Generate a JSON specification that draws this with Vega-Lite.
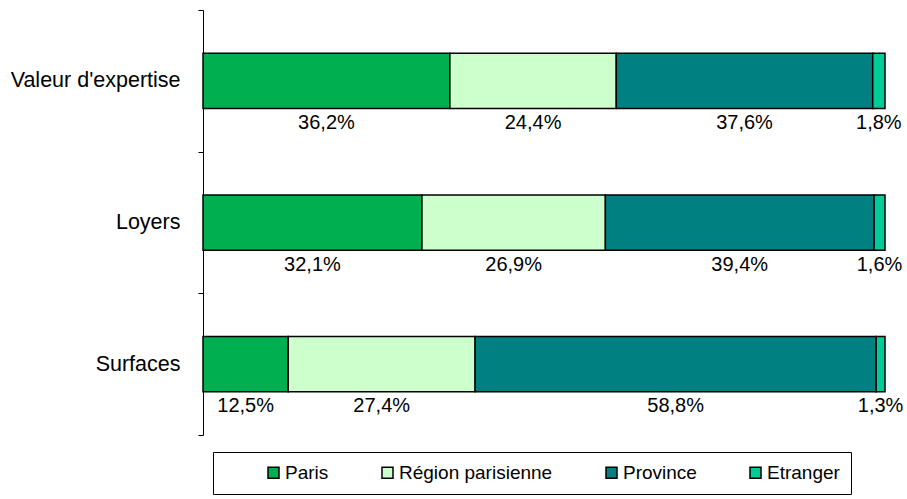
{
  "$schema": "https://vega.github.io/schema/vega-lite/v6.json",
  "width": 682,
  "height": 425,
  "autosize": {"type": "none"},
  "padding": {"left": 203, "top": 10, "right": 22, "bottom": 64},
  "config": {
    "view": {"stroke": null},
    "font": "Liberation Sans",
    "locale": {"number": {"decimal": ",", "thousands": " ", "grouping": [3], "currency": ["", " €"]}}
  },
  "data": {
    "values": [
      {"cat": "Valeur d'expertise", "zone": "Paris", "k": 1, "value": 0.362},
      {"cat": "Valeur d'expertise", "zone": "Région parisienne", "k": 2, "value": 0.244},
      {"cat": "Valeur d'expertise", "zone": "Province", "k": 3, "value": 0.376},
      {"cat": "Valeur d'expertise", "zone": "Etranger", "k": 4, "value": 0.018},
      {"cat": "Loyers", "zone": "Paris", "k": 1, "value": 0.321},
      {"cat": "Loyers", "zone": "Région parisienne", "k": 2, "value": 0.269},
      {"cat": "Loyers", "zone": "Province", "k": 3, "value": 0.394},
      {"cat": "Loyers", "zone": "Etranger", "k": 4, "value": 0.016},
      {"cat": "Surfaces", "zone": "Paris", "k": 1, "value": 0.125},
      {"cat": "Surfaces", "zone": "Région parisienne", "k": 2, "value": 0.274},
      {"cat": "Surfaces", "zone": "Province", "k": 3, "value": 0.588},
      {"cat": "Surfaces", "zone": "Etranger", "k": 4, "value": 0.013}
    ]
  },
  "transform": [
    {"stack": "value", "groupby": ["cat"], "sort": [{"field": "k", "order": "ascending"}], "as": ["v0", "v1"]},
    {"calculate": "(datum.v0 + datum.v1) / 2", "as": "mid"}
  ],
  "encoding": {
    "y": {
      "field": "cat",
      "type": "nominal",
      "sort": ["Valeur d'expertise", "Loyers", "Surfaces"],
      "scale": {"paddingInner": 0, "paddingOuter": 0},
      "axis": {
        "title": null,
        "domainColor": "black",
        "domainWidth": 1,
        "tickColor": "black",
        "tickSize": 5,
        "tickBand": "extent",
        "labelFontSize": 21.5,
        "labelColor": "black",
        "labelPadding": 18,
        "labelFont": "Liberation Sans"
      }
    }
  },
  "layer": [
    {
      "mark": {"type": "bar", "height": {"band": 0.39}, "stroke": "black", "strokeWidth": 1.5},
      "encoding": {
        "x": {"field": "v0", "type": "quantitative", "scale": {"domain": [0, 1]}, "axis": null},
        "x2": {"field": "v1"},
        "color": {
          "field": "zone",
          "type": "nominal",
          "sort": ["Paris", "Région parisienne", "Province", "Etranger"],
          "scale": {
            "domain": ["Paris", "Région parisienne", "Province", "Etranger"],
            "range": ["#00B050", "#CCFFCC", "#008080", "#00CC99"]
          },
          "legend": {
            "title": " ",
            "titleOrient": "left",
            "titlePadding": 40,
            "orient": "none",
            "direction": "horizontal",
            "legendX": 10,
            "legendY": 442,
            "strokeColor": "black",
            "padding": 11,
            "columnPadding": 49,
            "symbolType": "square",
            "symbolSize": 121,
            "symbolStrokeColor": "black",
            "symbolStrokeWidth": 1.5,
            "symbolOpacity": 1,
            "labelOffset": 2,
            "labelFontSize": 19,
            "labelColor": "black",
            "labelFont": "Liberation Sans"
          }
        }
      }
    },
    {
      "mark": {"type": "text", "dy": 42, "fontSize": 20, "font": "Liberation Sans", "color": "black"},
      "encoding": {
        "x": {"field": "mid", "type": "quantitative"},
        "text": {"field": "value", "type": "quantitative", "format": ".1%"}
      }
    }
  ]
}
